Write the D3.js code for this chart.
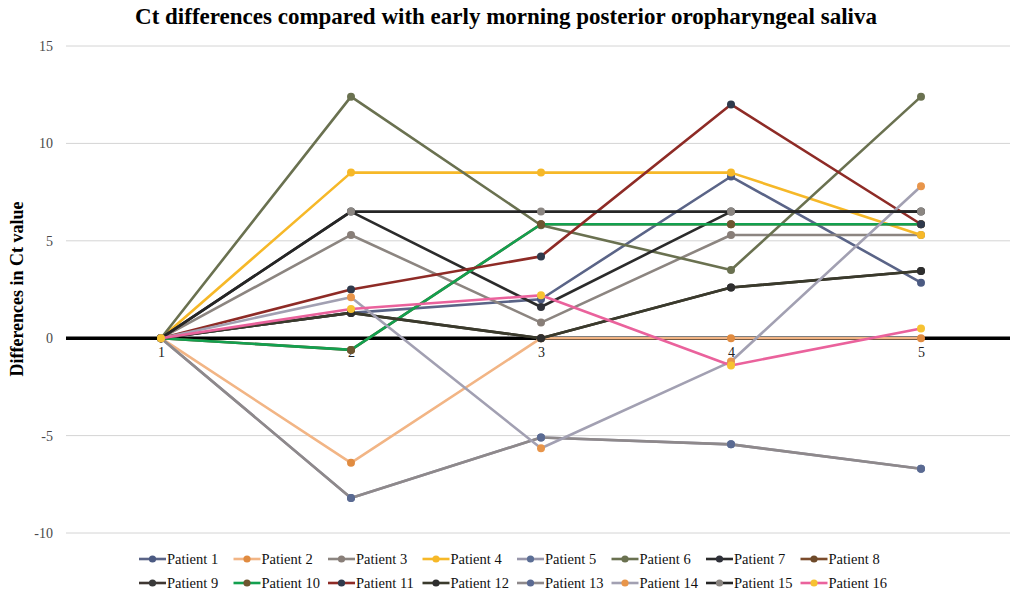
<!DOCTYPE html>
<html>
<head>
<meta charset="utf-8">
<script src="https://cdn.jsdelivr.net/npm/d3@7"></script>
<style>
  html, body { margin: 0; padding: 0; background: #fff; }
  svg { display: block; }
</style>
</head>
<body>
<svg id="chart" width="1010" height="598"></svg>
<script>
// Sampling occasions (x axis categories)
const categories = [1, 2, 3, 4, 5];

// Ct differences per patient at each sampling occasion
const patient1  = [0, 1.3, 2.0, 8.3, 2.85];
const patient2  = [0, -6.4, 0, 0, 0];
const patient3  = [0, 5.3, 0.8, 5.3, 5.3];
const patient4  = [0, 8.5, 8.5, 8.5, 5.3];
const patient5  = [0, -8.2, -5.1, -5.45, -6.7];
const patient6  = [0, 12.4, 5.8, 3.5, 12.4];
const patient7  = [0, 6.5, 1.6, 6.5, 6.5];
const patient8  = [0, -0.6, 5.85, 5.85, 5.85];
const patient9  = [0, 1.3, 0, 2.6, 3.45];
const patient10 = [0, -0.6, 5.85, 5.85, 5.85];
const patient11 = [0, 2.5, 4.2, 12.0, 5.85];
const patient12 = [0, 1.3, 0, 2.6, 3.45];
const patient13 = [0, -8.2, -5.1, -5.45, -6.7];
const patient14 = [0, 2.1, -5.65, -1.2, 7.8];
const patient15 = [0, 6.5, 6.5, 6.5, 6.5];
const patient16 = [0, 1.5, 2.2, -1.4, 0.5];

const seriesNames = ["Patient 1", "Patient 2", "Patient 3", "Patient 4", "Patient 5",
  "Patient 6", "Patient 7", "Patient 8", "Patient 9", "Patient 10", "Patient 11",
  "Patient 12", "Patient 13", "Patient 14", "Patient 15", "Patient 16"];
const seriesValues = [patient1, patient2, patient3, patient4, patient5, patient6,
  patient7, patient8, patient9, patient10, patient11, patient12, patient13,
  patient14, patient15, patient16];

// y axis ticks
const yTicks = [-10, -5, 0, 5, 10, 15];

// line / marker colours per patient
const lineColors = ["#5a6487", "#f2b585", "#8c8580", "#f6b828", "#9896aa", "#6a7150",
  "#2b2b2b", "#7b4b2b", "#3f3732", "#13a04f", "#8e2b26", "#3a3a2c", "#8e898b",
  "#a2a0b2", "#262626", "#ea629c"];
const markerColors = ["#4b5a82", "#e08b40", "#887e78", "#f6b828", "#5b6e95", "#6a7150",
  "#2f3139", "#6e4a2a", "#3a3a3a", "#6e5630", "#2f3a4c", "#2e2e2e", "#5a6a92",
  "#e8954a", "#8b8682", "#f6c232"];

const SERIF = "'Liberation Serif', 'Times New Roman', Times, serif";

const svg = d3.select("#chart");

const plotLeft = 66, plotRight = 1016;
const x = d3.scalePoint().domain(categories).range([plotLeft, plotRight]).padding(0.5);
const y = d3.scaleLinear().domain([-10, 15]).range([533, 46]);

// gridlines
svg.append("g")
  .selectAll("line")
  .data(yTicks.filter(d => d !== 0))
  .join("line")
  .attr("x1", plotLeft).attr("x2", 1010)
  .attr("y1", d => y(d)).attr("y2", d => y(d))
  .attr("stroke", "#d4d4d4").attr("stroke-width", 1);

// y tick labels
const yAxis = d3.axisLeft(y).tickValues(yTicks).tickSize(0).tickPadding(0)
  .tickFormat(d => String(d));
const gy = svg.append("g").attr("transform", "translate(53,0)").call(yAxis);
gy.select(".domain").remove();
gy.selectAll("text")
  .style("font-family", SERIF)
  .style("font-size", "14px")
  .attr("fill", "#4a4a4a");

// zero line
svg.append("line")
  .attr("x1", plotLeft).attr("x2", 1010)
  .attr("y1", y(0)).attr("y2", y(0))
  .attr("stroke", "#000").attr("stroke-width", 3.5);

// category labels below the zero line
const xAxis = d3.axisBottom(x).tickSize(0).tickPadding(0);
const gx = svg.append("g").attr("transform", `translate(0,${y(0) + 9})`).call(xAxis);
gx.select(".domain").remove();
gx.selectAll("text")
  .style("font-family", SERIF)
  .style("font-size", "14px")
  .attr("fill", "#222");

// series lines and markers
const line = d3.line().x((d, i) => x(categories[i])).y(d => y(d));
const seriesG = svg.append("g");
seriesValues.forEach((vals, s) => {
  const g = seriesG.append("g");
  g.append("path")
    .attr("d", line(vals))
    .attr("fill", "none")
    .attr("stroke", lineColors[s])
    .attr("stroke-width", 2.6)
    .attr("stroke-linejoin", "round");
  g.selectAll("circle")
    .data(vals)
    .join("circle")
    .attr("cx", (d, i) => x(categories[i]))
    .attr("cy", d => y(d))
    .attr("r", 4)
    .attr("fill", markerColors[s]);
});

// title
svg.append("text")
  .attr("x", 506).attr("y", 24)
  .attr("text-anchor", "middle")
  .style("font-family", SERIF)
  .style("font-size", "23px")
  .style("font-weight", "bold")
  .attr("fill", "#000")
  .text("Ct differences compared with early morning posterior oropharyngeal saliva");

// y axis title
svg.append("text")
  .attr("transform", "translate(23,289) rotate(-90)")
  .attr("text-anchor", "middle")
  .style("font-family", SERIF)
  .style("font-size", "18px")
  .style("font-weight", "bold")
  .attr("fill", "#000")
  .text("Differences in Ct value");

// legend
const legend = svg.append("g");
seriesNames.forEach((name, s) => {
  const row = Math.floor(s / 8), col = s % 8;
  const lx = 139 + col * 94.5;
  const ly = 559 + row * 24;
  const item = legend.append("g");
  item.append("line")
    .attr("x1", lx).attr("x2", lx + 27)
    .attr("y1", ly).attr("y2", ly)
    .attr("stroke", lineColors[s]).attr("stroke-width", 2.6);
  item.append("circle")
    .attr("cx", lx + 13.5).attr("cy", ly).attr("r", 3.6)
    .attr("fill", markerColors[s]);
  item.append("text")
    .attr("x", lx + 28).attr("y", ly + 5)
    .style("font-family", SERIF)
    .style("font-size", "14.5px")
    .attr("fill", "#111")
    .text(name);
});
</script>
</body>
</html>
